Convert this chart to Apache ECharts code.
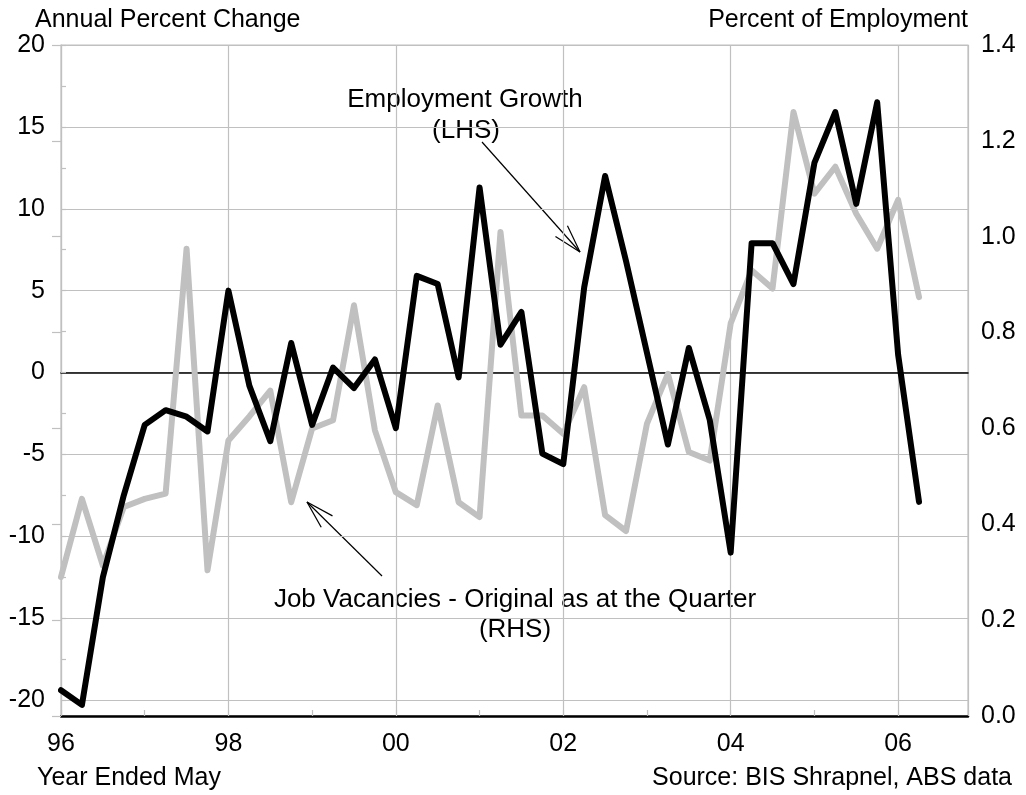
<!DOCTYPE html>
<html>
<head>
<meta charset="utf-8">
<script src="https://cdn.jsdelivr.net/npm/echarts/dist/echarts.min.js"></script>
<style>
  html, body { margin: 0; padding: 0; background: #fff; }
  #chart { width: 1026px; height: 795px; }
</style>
</head>
<body>
<div id="chart"></div>
<script>
// quarterly, from year ended May 1996
const yearLabels = ["96", "98", "00", "02", "04", "06"];
const employment = [-19.4, -20.3, -12.5, -7.5, -3.2, -2.3, -2.7, -3.6, 5.0, -0.8,
  -4.2, 1.8, -3.2, 0.3, -0.95, 0.8, -3.4, 5.9, 5.4, -0.3,
  11.3, 1.7, 3.7, -4.95, -5.6, 5.2, 12.0, 6.8, 1.2, -4.4,
  1.5, -2.9, -11.0, 7.9, 7.9, 5.4, 12.8, 15.9, 10.3, 16.5,
  1.1, -7.9];
const vacancies = [0.29, 0.453, 0.314, 0.436, 0.453, 0.464, 0.975, 0.304, 0.575, 0.625,
  0.679, 0.446, 0.6, 0.617, 0.857, 0.596, 0.467, 0.44, 0.648, 0.446,
  0.415, 1.01, 0.627, 0.627, 0.589, 0.686, 0.419, 0.386, 0.61, 0.714,
  0.551, 0.533, 0.819, 0.93, 0.892, 1.26, 1.09, 1.146, 1.048, 0.975,
  1.077, 0.874];

const FONT = "Liberation Sans, Arial, sans-serif";
const GRID = "#c0c0c0";
const XMAX = 43.34;

const chart = echarts.init(document.getElementById("chart"));

function txt(text, x, y, align, size) {
  return {
    type: "text",
    style: { text: text, x: x, y: y, align: align, verticalAlign: "middle",
      font: (size || 25) + "px " + FONT, fill: "#000" }
  };
}

function arrow(x1, y1, x2, y2) {
  const ang = Math.atan2(y1 - y2, x1 - x2), len = 29, spread = 0.28;
  const out = [{ type: "line", shape: { x1: x1, y1: y1, x2: x2, y2: y2 },
    style: { stroke: "#000", lineWidth: 1.2 } }];
  [-spread, spread].forEach(function (s) {
    out.push({ type: "line",
      shape: { x1: x2, y1: y2, x2: x2 + len * Math.cos(ang + s), y2: y2 + len * Math.sin(ang + s) },
      style: { stroke: "#000", lineWidth: 1.2 } });
  });
  return out;
}

const option = {
  animation: false,
  textStyle: { fontFamily: FONT },
  grid: [
    { left: 61, top: 45, width: 907, height: 655 },
    { left: 61, top: 45, width: 907, height: 671, show: true,
      borderColor: GRID, borderWidth: 1.2 }
  ],
  xAxis: [
    { // zero line on the left axis
      gridIndex: 0, type: "value", min: 0, max: XMAX,
      axisLine: { onZero: true, lineStyle: { color: "#000", width: 1.5 } },
      axisTick: { show: false }, axisLabel: { show: false }, splitLine: { show: false }
    },
    {
      gridIndex: 1, type: "value", min: 0, max: XMAX, interval: 4, position: "bottom",
      axisLine: { lineStyle: { color: "#000", width: 2.5 } },
      axisTick: { inside: true, length: 6, lineStyle: { color: GRID, width: 1.2 } },
      axisLabel: {
        margin: 16, fontSize: 25, color: "#000", fontFamily: FONT,
        formatter: function (v) { return v % 8 === 0 ? yearLabels[v / 8] : ""; }
      },
      splitLine: { show: false }
    },
    {
      gridIndex: 1, type: "value", min: 0, max: XMAX, interval: 8, position: "bottom",
      axisLine: { show: false }, axisTick: { show: false }, axisLabel: { show: false },
      splitLine: { show: true, lineStyle: { color: GRID, width: 1.2 } }
    }
  ],
  yAxis: [
    {
      gridIndex: 0, type: "value", position: "left", min: -20, max: 20, interval: 2.5,
      axisLine: { show: false },
      axisTick: { show: true, inside: true, length: 5, lineStyle: { color: GRID, width: 1.2 } },
      axisLabel: {
        margin: 16, fontSize: 25, color: "#000", fontFamily: FONT,
        formatter: function (v) { return v % 5 === 0 ? String(v) : ""; }
      },
      splitLine: { show: false }
    },
    {
      gridIndex: 0, type: "value", position: "left", min: -20, max: 20, interval: 5,
      axisLine: { show: false }, axisTick: { show: false }, axisLabel: { show: false },
      splitLine: { show: true, lineStyle: { color: GRID, width: 1.2 } }
    },
    {
      gridIndex: 1, type: "value", position: "right", min: 0, max: 1.4, interval: 0.2,
      axisLine: { show: true, lineStyle: { color: GRID, width: 1.2 } },
      axisTick: { show: true, inside: true, length: 9, lineStyle: { color: GRID, width: 1.2 } },
      axisLabel: {
        margin: 13, fontSize: 25, color: "#000", fontFamily: FONT,
        formatter: function (v) { return v.toFixed(1); }
      },
      splitLine: { show: false }
    }
  ],
  series: [
    {
      name: "Job Vacancies - Original as at the Quarter (RHS)", type: "line",
      xAxisIndex: 1, yAxisIndex: 2, symbol: "none", clip: false, z: 3,
      lineStyle: { color: GRID, width: 6, cap: "round", join: "round" },
      data: vacancies.map(function (v, i) { return [i, v]; })
    },
    {
      name: "Employment Growth (LHS)", type: "line",
      xAxisIndex: 0, yAxisIndex: 0, symbol: "none", clip: false, z: 4,
      lineStyle: { color: "#000", width: 6, cap: "round", join: "round" },
      data: employment.map(function (v, i) { return [i, v]; })
    }
  ],
  graphic: [
    txt("Annual Percent Change", 35, 20, "left"),
    txt("Percent of Employment", 968, 20, "right"),
    txt("Year Ended May", 37, 778, "left"),
    txt("Source: BIS Shrapnel, ABS data", 1012, 778, "right"),
    txt("Employment Growth", 465, 100, "center", 26),
    txt("(LHS)", 466, 131, "center", 26),
    txt("Job Vacancies - Original as at the Quarter", 515, 600, "center", 26),
    txt("(RHS)", 515, 630, "center", 26)
  ].concat(arrow(482, 142, 580, 252), arrow(382, 576, 307, 502))
};

chart.setOption(option);
</script>
</body>
</html>
